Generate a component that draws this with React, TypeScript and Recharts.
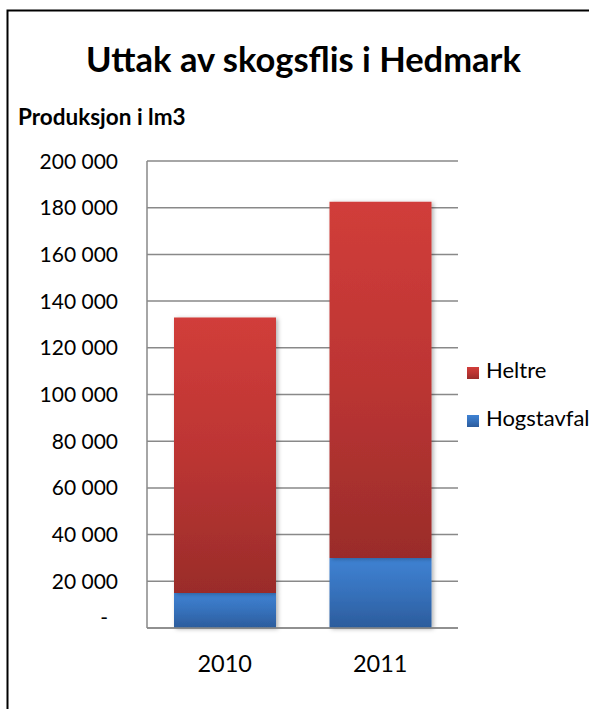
import React from 'react';
import { BarChart, Bar, XAxis, YAxis, CartesianGrid, Legend } from 'recharts';

const categories = ['2010', '2011'];
const hogstavfal = [15000, 30000];
const heltre = [118000, 152500];
const yTicks = [0, 20000, 40000, 60000, 80000, 100000, 120000, 140000, 160000, 180000, 200000];
const seriesNames = { heltre: 'Heltre', hogstavfal: 'Hogstavfal' };
const legendOrder = ['Heltre', 'Hogstavfal'];
const titleText = 'Uttak av skogsflis i Hedmark';
const yAxisTitle = 'Produksjon i lm3';

const data = categories.map((c, i) => ({ year: c, hogstavfal: hogstavfal[i], heltre: heltre[i] }));

const FONT = 'Lato, "Open Sans", sans-serif';
const GRID = '#898989';

const fmt = (v: number) => {
  if (v === 0) return '-';
  return String(v).replace(/\B(?=(\d{3})+(?!\d))/g, ' ');
};

const YTick = (props: any) => {
  const { x, y, payload } = props;
  const isZero = payload.value === 0;
  return (
    <text
      x={isZero ? x - 10 : x}
      y={y}
      dy={isZero ? -3 : 7.5}
      textAnchor="end"
      fontFamily={FONT}
      fontSize={21}
      fill="#000"
    >
      {fmt(payload.value)}
    </text>
  );
};

const LegendContent = (props: any) => {
  const payload = [...(props.payload || [])].sort(
    (a: any, b: any) => legendOrder.indexOf(a.value) - legendOrder.indexOf(b.value)
  );
  return (
    <svg width={130} height={80} style={{ display: 'block', overflow: 'visible' }}>
      {payload.map((p: any, i: number) => (
        <g key={p.value} transform={`translate(0, ${i * 48})`}>
          <rect x={1} y={7} width={12} height={12} fill={p.color} />
          <text x={20} y={18} fontFamily={FONT} fontSize={22} fill="#000">
            {p.value}
          </text>
        </g>
      ))}
    </svg>
  );
};

export default function App() {
  return (
    <div style={{ position: 'absolute', left: 0, top: 0, width: 589, height: 709, background: '#fff', overflow: 'hidden' }}>
      <BarChart
        width={589}
        height={709}
        data={data}
        margin={{ top: 161, right: 1, bottom: 51, left: 0 }}
        barSize={102}
      >
        <defs>
          <linearGradient id="gradRed" x1="0" y1="0" x2="0" y2="1">
            <stop offset="0%" stopColor="#D13D3A" />
            <stop offset="50%" stopColor="#BC3533" />
            <stop offset="100%" stopColor="#9A2C2A" />
          </linearGradient>
          <linearGradient id="gradBlue" x1="0" y1="0" x2="0" y2="1">
            <stop offset="0%" stopColor="#3F82D3" />
            <stop offset="50%" stopColor="#3671BB" />
            <stop offset="100%" stopColor="#2C5C9C" />
          </linearGradient>
          <filter id="barShadow" x="-10%" y="-10%" width="130%" height="130%">
            <feDropShadow dx="2" dy="1" stdDeviation="2" floodColor="#000" floodOpacity="0.3" />
          </filter>
        </defs>
        <CartesianGrid vertical={false} stroke={GRID} strokeWidth={1.5} />
        <XAxis
          dataKey="year"
          height={30}
          tickLine={false}
          tickSize={0}
          tickMargin={27}
          axisLine={{ stroke: GRID, strokeWidth: 1.5 }}
          tick={{ fontFamily: FONT, fontSize: 23.5, fill: '#000' }}
        />
        <YAxis
          width={147}
          domain={[0, 200000]}
          ticks={yTicks}
          interval={0}
          tickLine={false}
          tickSize={0}
          tickMargin={29}
          axisLine={{ stroke: GRID, strokeWidth: 1.5 }}
          tick={<YTick />}
        />
        <Legend
          layout="horizontal"
          verticalAlign="middle"
          align="right"
          content={<LegendContent />}
          wrapperStyle={{ position: 'absolute', left: 466, top: 360, width: 130, height: 80 }}
        />
        <Bar dataKey="hogstavfal" name={seriesNames.hogstavfal} stackId="a" fill="url(#gradBlue)" filter="url(#barShadow)" isAnimationActive={false} />
        <Bar dataKey="heltre" name={seriesNames.heltre} stackId="a" fill="url(#gradRed)" filter="url(#barShadow)" isAnimationActive={false} />
      </BarChart>
      <svg width={589} height={709} style={{ position: 'absolute', left: 0, top: 0, pointerEvents: 'none' }}>
        <rect x={7.5} y={10.5} width={700} height={800} fill="none" stroke="#000" strokeWidth={2} />
        <text x={303.5} y={72} textAnchor="middle" fontFamily={FONT} fontWeight={700} fontSize={34.5} fill="#000">
          {titleText}
        </text>
        <text x={18} y={125} fontFamily={FONT} fontWeight={700} fontSize={22.5} fill="#000">
          {yAxisTitle}
        </text>
      </svg>
    </div>
  );
}
